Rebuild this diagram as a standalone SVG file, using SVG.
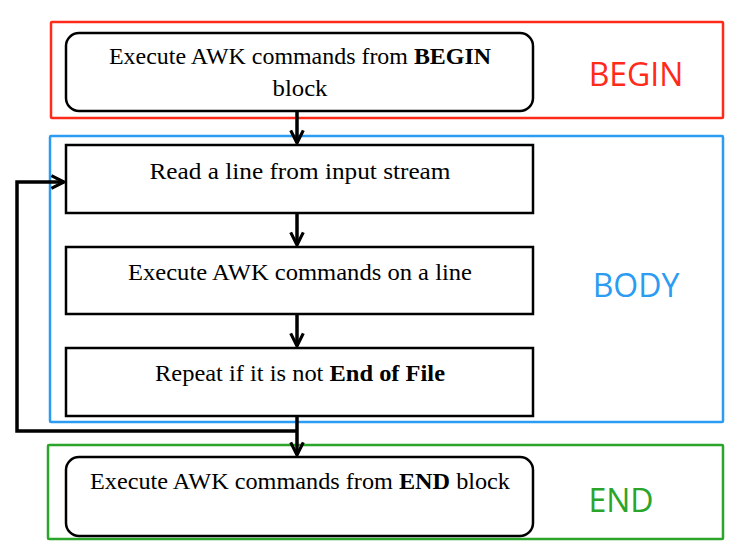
<svg xmlns="http://www.w3.org/2000/svg" width="749" height="559" viewBox="0 0 749 559">
<style>
.node{fill:#fff;stroke:#000;stroke-width:2.5}
.t{font-family:"Liberation Serif","DejaVu Serif",serif;font-size:23px;fill:#000;text-anchor:middle}
.b{font-weight:bold}
.lbl{font-family:"Open Sans","Liberation Sans",sans-serif;font-size:32px;text-anchor:middle}
.conn{fill:none;stroke:#000;stroke-width:3.5}
</style>
<defs>
<marker id="ah" viewBox="0 0 10 10" refX="9" refY="5" markerWidth="4.5" markerHeight="4.5" orient="auto" markerUnits="strokeWidth">
<path d="M1,1 L9,5 L1,9" fill="none" stroke="#000" stroke-width="2"/>
</marker>
</defs>
<g id="group-begin">
<rect x="51" y="22" width="672" height="96" fill="none" stroke="#ff2a1a" stroke-width="2.5" rx="1"/>
<text class="lbl" x="636" y="86" fill="#ff2a1a">BEGIN</text>
</g>
<g id="group-body">
<rect x="50" y="136" width="673" height="286" fill="none" stroke="#2b9cf2" stroke-width="2.5" rx="1"/>
<text class="lbl" x="636" y="297" fill="#2b9cf2">BODY</text>
</g>
<g id="group-end">
<rect x="48" y="445" width="675" height="94" fill="none" stroke="#2aa52a" stroke-width="2.5" rx="1"/>
<text class="lbl" x="621" y="512" fill="#2aa52a">END</text>
</g>
<g id="connectors">
<path class="conn" d="M297,111 V143" marker-end="url(#ah)"/>
<path class="conn" d="M297,213 V245" marker-end="url(#ah)"/>
<path class="conn" d="M297,314 V346" marker-end="url(#ah)"/>
<path class="conn" d="M297,416 V455" marker-end="url(#ah)"/>
<path class="conn" d="M297,431 H17 V182 H64" marker-end="url(#ah)"/>
</g>
<g id="node-begin">
<rect class="node" x="66" y="33" width="467" height="78" rx="13"/>
<text class="t" x="300" y="64" textLength="382" lengthAdjust="spacingAndGlyphs">Execute AWK commands from <tspan class="b">BEGIN</tspan></text>
<text class="t" x="300" y="96" textLength="55" lengthAdjust="spacingAndGlyphs">block</text>
</g>
<g id="node-read">
<rect class="node" x="66" y="145" width="467" height="68"/>
<text class="t" x="300" y="179" textLength="301" lengthAdjust="spacingAndGlyphs">Read a line from input stream</text>
</g>
<g id="node-exec">
<rect class="node" x="66" y="247" width="467" height="67"/>
<text class="t" x="300" y="280" textLength="344" lengthAdjust="spacingAndGlyphs">Execute AWK commands on a line</text>
</g>
<g id="node-repeat">
<rect class="node" x="66" y="348" width="467" height="68"/>
<text class="t" x="300" y="381" textLength="290" lengthAdjust="spacingAndGlyphs">Repeat if it is not <tspan class="b">End of File</tspan></text>
</g>
<g id="node-end">
<rect class="node" x="66" y="457" width="467" height="79" rx="13"/>
<text class="t" x="300" y="489" textLength="420" lengthAdjust="spacingAndGlyphs">Execute AWK commands from <tspan class="b">END</tspan> block</text>
</g>
</svg>
